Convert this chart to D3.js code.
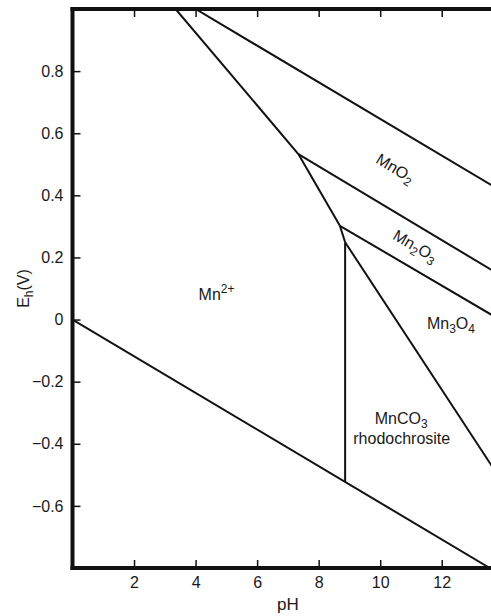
<!DOCTYPE html>
<html>
<head>
<meta charset="utf-8">
<script src="https://cdn.jsdelivr.net/npm/d3@7"></script>
<style>
  body { margin: 0; background: #fff; }
  text { font-family: "Liberation Sans", Arial, Helvetica, sans-serif; fill: #1a1a1a; }
</style>
</head>
<body>
<div id="chart"></div>
<script>
'use strict'

// axis ticks
const xTicks = [2, 4, 6, 8, 10, 12]
const yTicks = [-0.6, -0.4, -0.2, 0, 0.2, 0.4, 0.6, 0.8]

// stability boundaries, [pH, Eh] pairs
const waterUpper = [[4.0, 1.0], [14, 0.41]]
const waterLower = [[0, 0], [13.56, -0.8]]
const mnIonMnO2 = [[3.35, 1.0], [7.34, 0.533]]
const mnO2Mn2O3 = [[7.34, 0.533], [14, 0.137]]
const mnIonMn2O3 = [[7.34, 0.533], [8.69, 0.302]]
const mn2O3Mn3O4 = [[8.69, 0.302], [14, -0.007]]
const mnIonMn3O4 = [[8.69, 0.302], [8.86, 0.249]]
const mn3O4MnCO3 = [[8.86, 0.249], [14, -0.528]]
const mnIonMnCO3 = [[8.86, 0.249], [8.86, -0.523]]

const boundaries = [waterUpper, waterLower, mnIonMnO2, mnO2Mn2O3, mnIonMn2O3,
  mn2O3Mn3O4, mnIonMn3O4, mn3O4MnCO3, mnIonMnCO3]

// field labels: pieces are [text, 'sub' | 'sup' | '']
const fieldLabels = [
  { parts: [['Mn', ''], ['2+', 'sup']], pH: 4.68, eh: 0.064, along: null },
  { parts: [['MnO', ''], ['2', 'sub']], pH: 10.4, eh: 0.472, along: mnO2Mn2O3 },
  { parts: [['Mn', ''], ['2', 'sub'], ['O', ''], ['3', 'sub']], pH: 11.05, eh: 0.222, along: mn2O3Mn3O4 },
  { parts: [['Mn', ''], ['3', 'sub'], ['O', ''], ['4', 'sub']], pH: 12.3, eh: -0.03, along: null },
  { parts: [['MnCO', ''], ['3', 'sub']], pH: 10.68, eh: -0.335, along: null },
  { parts: [['rhodochrosite', '']], pH: 10.7, eh: -0.40, along: null }
]

const width = 491
const height = 616
const margin = { top: 9, left: 72.5, bottom: 48 }

const x = d3.scaleLinear().domain([0, 14]).range([margin.left, margin.left + 14 * 30.77])
const y = d3.scaleLinear().domain([-0.8, 1.0]).range([height - margin.bottom, margin.top])

const svg = d3.select('#chart')
  .append('svg')
  .attr('width', width)
  .attr('height', height)

svg.append('defs').append('clipPath')
  .attr('id', 'plot-clip')
  .append('rect')
  .attr('x', x(0))
  .attr('y', y(1.0))
  .attr('width', x(14) - x(0))
  .attr('height', y(-0.8) - y(1.0))

// boundary lines
const line = d3.line().x(d => x(d[0])).y(d => y(d[1]))
svg.append('g')
  .attr('clip-path', 'url(#plot-clip)')
  .selectAll('path')
  .data(boundaries)
  .enter()
  .append('path')
  .attr('d', line)
  .attr('fill', 'none')
  .attr('stroke', '#111')
  .attr('stroke-width', 2)

// axes, ticks pointing inward
const fmt = d3.format('~g')
svg.append('g')
  .attr('transform', `translate(${x(0)},0)`)
  .call(d3.axisLeft(y).tickValues(yTicks).tickFormat(fmt).tickSizeInner(-8).tickSizeOuter(0).tickPadding(9))
  .call(g => g.select('.domain').remove())

svg.append('g')
  .attr('transform', `translate(0,${y(-0.8)})`)
  .call(d3.axisBottom(x).tickValues(xTicks).tickFormat(fmt).tickSizeInner(-8).tickSizeOuter(0).tickPadding(9))
  .call(g => g.select('.domain').remove())

svg.append('g')
  .attr('transform', `translate(0,${y(1.0)})`)
  .call(d3.axisTop(x).tickValues(xTicks).tickFormat('').tickSizeInner(-8).tickSizeOuter(0))
  .call(g => g.select('.domain').remove())

svg.selectAll('.tick line').attr('stroke', '#111').attr('stroke-width', 1.5)
svg.selectAll('.tick text').style('font-size', '16px').attr('fill', '#1a1a1a')

// thick frame
const frame = svg.append('g')
  .attr('stroke', '#111')
  .attr('stroke-width', 4)
  .attr('stroke-linecap', 'square')
frame.append('line').attr('x1', x(0)).attr('x2', x(0)).attr('y1', y(1.0)).attr('y2', y(-0.8))
frame.append('line').attr('x1', x(0)).attr('x2', x(14)).attr('y1', y(1.0)).attr('y2', y(1.0))
frame.append('line').attr('x1', x(0)).attr('x2', x(14)).attr('y1', y(-0.8)).attr('y2', y(-0.8))

// axis titles
svg.append('text')
  .attr('x', (x(0) + x(14)) / 2)
  .attr('y', 610)
  .attr('text-anchor', 'middle')
  .style('font-size', '17px')
  .text('pH')

const yTitle = svg.append('text')
  .attr('transform', `translate(29,${(y(1.0) + y(-0.8)) / 2}) rotate(-90)`)
  .attr('text-anchor', 'middle')
  .style('font-size', '16px')
yTitle.append('tspan').text('E')
yTitle.append('tspan').attr('dy', 4).style('font-size', '12px').text('h')
yTitle.append('tspan').attr('dy', -4).text('(V)')

// field labels
function addFormula (sel, parts) {
  let shift = 0
  parts.forEach(([t, kind]) => {
    const target = kind === 'sub' ? 4 : kind === 'sup' ? -7 : 0
    sel.append('tspan')
      .attr('dy', target - shift)
      .style('font-size', kind ? '12px' : '16px')
      .text(t)
    shift = target
  })
}

fieldLabels.forEach(lab => {
  let angle = 0
  if (lab.along) {
    const [a, b] = [lab.along[0], lab.along[lab.along.length - 1]]
    angle = Math.atan2(y(b[1]) - y(a[1]), x(b[0]) - x(a[0])) * 180 / Math.PI
  }
  const t = svg.append('text')
    .attr('transform', `translate(${x(lab.pH)},${y(lab.eh)}) rotate(${angle})`)
    .attr('text-anchor', 'middle')
    .style('font-size', '16px')
  addFormula(t, lab.parts)
})
</script>
</body>
</html>
